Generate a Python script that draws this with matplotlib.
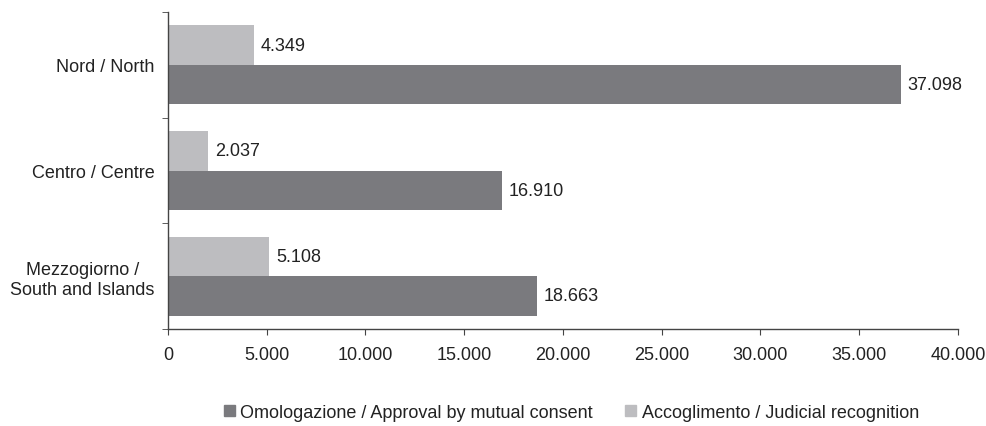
import matplotlib
matplotlib.use("Agg")
import matplotlib.pyplot as plt
import numpy as np
from matplotlib.patches import Patch

plt.rcParams['font.family'] = ['Liberation Sans', 'DejaVu Sans']

categories = ["Nord / North", "Centro / Centre", "Mezzogiorno /\nSouth and Islands"]
omologazione = [37098, 16910, 18663]
accoglimento = [4349, 2037, 5108]
series_names = ["Omologazione / Approval by mutual consent", "Accoglimento / Judicial recognition"]
xticks = [0, 5000, 10000, 15000, 20000, 25000, 30000, 35000, 40000]

dark = "#7a7a7e"
light = "#bdbdc0"
txt = "#222222"
FS = 13

def fmt(v):
    return f"{v:,.0f}".replace(",", ".")

fig = plt.figure(figsize=(9.87, 4.27), dpi=100)
ax = fig.add_axes([168/987, 1-330/427, (958-168)/987, (330-13)/427])

y = np.arange(len(categories))
h = 0.375
b1 = ax.barh(y + h/2, omologazione, height=h, color=dark, label=series_names[0])
b2 = ax.barh(y - h/2, accoglimento, height=h, color=light, label=series_names[1])

for bars, vals in ((b1, omologazione), (b2, accoglimento)):
    for r, v in zip(bars, vals):
        ax.annotate(fmt(v), (r.get_width(), r.get_y() + r.get_height()/2),
                    xytext=(5, 0), textcoords='offset points',
                    va='center', ha='left', fontsize=FS, color=txt)

ax.set_ylim(len(categories) - 0.5, -0.5)
ax.set_xlim(0, 40000)
ax.set_xticks(xticks)
ax.set_xticklabels([fmt(v) for v in xticks], fontsize=FS, color=txt)
ax.set_yticks(y)
ax.set_yticklabels(categories, fontsize=FS, color=txt, ha='right', multialignment='center')
ax.tick_params(axis='y', which='major', length=0, pad=9.5)
ax.set_yticks(np.arange(len(categories) + 1) - 0.5, minor=True)
ax.tick_params(axis='y', which='minor', length=4, color='#444444', direction='out')
ax.tick_params(axis='x', which='major', length=4, color='#444444', direction='out', pad=8)

for s in ['top', 'right']:
    ax.spines[s].set_visible(False)
for s in ['left', 'bottom']:
    ax.spines[s].set_color('#444444')
    ax.spines[s].set_linewidth(1)

handles = [Patch(color=dark), Patch(color=light)]
fig.legend(handles, series_names, loc='center', bbox_to_anchor=(0.579, 0.032), ncol=2,
           frameon=False, fontsize=FS, handlelength=0.6, handleheight=0.6,
           handletextpad=0.3, columnspacing=1.8, labelcolor=txt, borderpad=0)

fig.savefig("out.png", dpi=100)
